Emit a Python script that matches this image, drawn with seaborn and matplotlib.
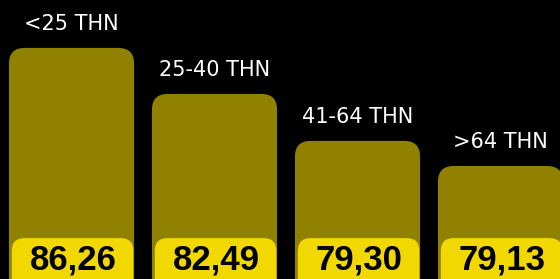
import matplotlib
matplotlib.use("Agg")
import matplotlib.pyplot as plt
from matplotlib.patches import FancyBboxPatch
import seaborn as sns
import pandas as pd

# data
groups = ["<25 THN", "25-40 THN", "41-64 THN", ">64 THN"]
scores = ["86,26", "82,49", "79,30", "79,13"]
# visible bar height (the picture is cropped, so this is an index, not the score)
bar_level = [99.4, 79.6, 59.4, 48.6]

bar_color = "#918100"
badge_color = "#f1d800"

df = pd.DataFrame({"group": groups, "level": bar_level})

sns.set_style("dark")
fig = plt.figure(figsize=(5.6, 2.79), dpi=100, facecolor="black")
ax = fig.add_axes([0, 0, 1, 1])
ax.set_facecolor("black")

sns.barplot(data=df, x="group", y="level", color=bar_color, width=0.875,
            saturation=1, ax=ax)

ax.set_xlim(-0.5, 3.416)
ax.set_ylim(0, 120)

# aspect between y-units and x-units per pixel so corners stay round
x_per_px = (3.416 + 0.5) / 560
y_per_px = 120 / 279
aspect = y_per_px / x_per_px

for p in list(ax.patches):
    x0, w, h = p.get_x(), p.get_width(), p.get_height()
    p.remove()
    ax.add_patch(FancyBboxPatch((x0, -20), w, h + 20,
                                boxstyle="round,pad=0,rounding_size=0.11",
                                mutation_aspect=aspect, fc=bar_color, ec="none"))
    # value badge at the foot of the bar
    ax.add_patch(FancyBboxPatch((x0 + 0.02, -20), w - 0.025, 37.6,
                                boxstyle="round,pad=0,rounding_size=0.09",
                                mutation_aspect=aspect, fc=badge_color, ec="none",
                                zorder=3))

for i, (g, s, h) in enumerate(zip(groups, scores, bar_level)):
    ax.text(i, h + 10.3, g, ha="center", va="center", color="white", fontsize=15)
    ax.text(i + 0.01, 8.0, s, ha="center", va="center", color="black",
            fontsize=25, fontweight="bold", family=["Liberation Sans", "DejaVu Sans"],
            zorder=4)

ax.set_axis_off()
fig.savefig("out.png", dpi=100, facecolor="black")
